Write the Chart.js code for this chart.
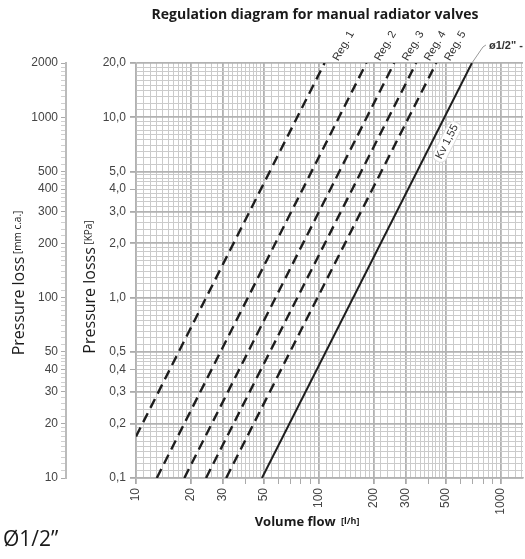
<!DOCTYPE html>
<html>
<head>
<meta charset="utf-8">
<script src="https://cdn.jsdelivr.net/npm/chart.js@4.4.0/dist/chart.umd.min.js"></script>
<style>
  body { margin: 0; background: #fff; }
  #wrap { width: 525px; height: 559px; position: relative; }
</style>
</head>
<body>
<div id="wrap"><canvas id="chart"></canvas></div>
<script>
// ---- data ----
const seriesNames = ["Reg. 1", "Reg. 2", "Reg. 3", "Reg. 4", "Reg. 5", "Kv 1,55"];
const flowStart = [10, 13, 18.4, 24.2, 31.2, 49];      // l/h
const lossStart = [0.17, 0.1, 0.1, 0.1, 0.1, 0.1];     // kPa
const flowEnd = [108, 183, 260, 343, 442, 693];        // l/h
const lossEnd = [20, 20, 20, 20, 20, 20];              // kPa

const xTickLabels = [10, 20, 30, 50, 100, 200, 300, 500, 1000];
const yTickLabels = [0.1, 0.2, 0.3, 0.4, 0.5, 1, 2, 3, 4, 5, 10, 20];
const mmTickLabels = [10, 20, 30, 40, 50, 100, 200, 300, 400, 500, 1000, 2000];

// dense log paper grid
function gridValues(min, max) {
  const out = [];
  for (let e = -2; e <= 4; e++) {
    const p = Math.pow(10, e);
    for (let m = 10; m < 20; m += 1) out.push(m * p / 10);
    for (let m = 20; m < 50; m += 2) out.push(m * p / 10);
    for (let m = 50; m < 100; m += 5) out.push(m * p / 10);
  }
  return out.filter(v => v >= min * 0.9999 && v <= max * 1.0001);
}
function mantissa(v) {
  const m = v / Math.pow(10, Math.floor(Math.log10(v) + 1e-9));
  return Math.round(m * 10) / 10;
}
function inList(v, list) {
  return list.some(l => Math.abs(v / l - 1) < 1e-6);
}
const isInt = v => Math.abs(mantissa(v) - Math.round(mantissa(v))) < 1e-6;
const isMajor = v => [1, 2, 3, 5].some(m => Math.abs(mantissa(v) - m) < 1e-6);

const gridColor = ctx => isMajor(ctx.tick.value) ? "#b2b2b2" : "#cbcbcb";
const gridWidth = ctx => isMajor(ctx.tick.value) ? 1.8 : 1;

const datasets = seriesNames.map((name, i) => ({
  label: name,
  data: [{ x: flowStart[i], y: lossStart[i] }, { x: flowEnd[i], y: lossEnd[i] }],
  showLine: true,
  pointRadius: 0,
  borderColor: "#1e1e1e",
  borderWidth: i === 5 ? 2 : 2.4,
  borderDash: i === 5 ? [] : [10, 6],
  yAxisID: "y"
}));

const tickFont = { family: "'Liberation Sans', Arial, sans-serif", size: 12 };
const noPad = s => { s.paddingLeft = 0; s.paddingRight = 0; s.paddingTop = 0; s.paddingBottom = 0; };

// texts drawn next to the scales
const textPlugin = {
  id: "texts",
  afterDraw(chart) {
    const c = chart.ctx;
    c.save();
    c.fillStyle = "#1a1a1a";

    // title
    c.font = "bold 14px 'Open Sans'";
    c.textAlign = "center";
    c.textBaseline = "middle";
    c.fillText("Regulation diagram for manual radiator valves", 315, 15);

    // axis titles (rotated, two sizes)
    function vTitle(x, cy, big, small) {
      c.save();
      c.translate(x, cy);
      c.rotate(-Math.PI / 2);
      c.font = "16px 'Open Sans'";
      const w1 = c.measureText(big).width;
      c.font = "10px 'Open Sans'";
      const w2 = c.measureText(small).width;
      const start = -(w1 + w2) / 2;
      c.textAlign = "left";
      c.textBaseline = "middle";
      c.font = "16px 'Open Sans'";
      c.fillText(big, start, 0);
      c.font = "10px 'Open Sans'";
      c.fillText(small, start + w1, -1);
      c.restore();
    }
    vTitle(19, 283, "Pressure loss", " [mm c.a.]");
    vTitle(90, 287, "Pressure losss", " [KPa]");

    // x axis title
    c.textBaseline = "middle";
    c.textAlign = "left";
    c.font = "bold 13px 'Open Sans'";
    const a = "Volume flow ";
    const wa = c.measureText(a).width;
    c.font = "bold 9px 'Open Sans'";
    const b = "[l/h]";
    const wb = c.measureText(b).width;
    const sx = 306 - (wa + wb) / 2;
    c.font = "bold 13px 'Open Sans'";
    c.fillText(a, sx, 522);
    c.font = "bold 9px 'Open Sans'";
    c.fillText(b, sx + wa + 2, 521);

    // size label
    c.font = "21px 'Open Sans'";
    c.fillText("\u00d81/2\u201d", 3, 540);

    // line labels
    c.font = "11px 'Liberation Sans', Arial";
    c.fillStyle = "#333";
    for (let i = 0; i < 5; i++) {
      const p = chart.getDatasetMeta(i).data[1];
      c.save();
      c.translate(p.x + 11, p.y - 3);
      c.rotate(-Math.PI / 3);
      c.textAlign = "left";
      c.textBaseline = "middle";
      c.fillText(seriesNames[i], 0, 0);
      c.restore();
    }

    // solid line: leader + size tag, and Kv label
    const meta = chart.getDatasetMeta(5);
    const p0 = meta.data[0], p1 = meta.data[1];
    c.strokeStyle = "#999";
    c.lineWidth = 1;
    c.beginPath();
    c.moveTo(p1.x, p1.y);
    c.lineTo(p1.x + 11, p1.y - 16);
    c.lineTo(p1.x + 14, p1.y - 18);
    c.stroke();
    c.font = "bold 11px 'Liberation Sans', Arial";
    c.fillStyle = "#333";
    c.textAlign = "left";
    c.fillText("\u00f81/2\" -", p1.x + 17, p1.y - 17);

    const t = 0.81;
    const kx = p0.x + (p1.x - p0.x) * t + 15;
    const ky = p0.y + (p1.y - p0.y) * t;
    const ang = Math.atan2(p1.y - p0.y, p1.x - p0.x);
    c.save();
    c.translate(kx, ky);
    c.rotate(ang);
    c.font = "11px 'Liberation Sans', Arial";
    const kw = c.measureText(seriesNames[5]).width;
    c.fillStyle = "#fff";
    c.strokeStyle = "#ddd";
    c.beginPath();
    c.roundRect(-kw / 2 - 3, -7, kw + 6, 14, 6);
    c.fill();
    c.stroke();
    c.fillStyle = "#333";
    c.textAlign = "center";
    c.textBaseline = "middle";
    c.fillText(seriesNames[5], 0, 0);
    c.restore();

    c.restore();
  }
};

new Chart(document.getElementById("chart"), {
  type: "scatter",
  data: { datasets },
  options: {
    responsive: true,
    maintainAspectRatio: false,
    animation: false,
    layout: { padding: { top: 63, right: 2, bottom: 0, left: 0 } },
    plugins: { legend: { display: false }, tooltip: { enabled: false }, title: { display: false } },
    scales: {
      x: {
        type: "logarithmic",
        min: 10,
        max: 1320,
        afterBuildTicks: s => { s.ticks = gridValues(10, 1320).map(v => ({ value: v })); },
        afterFit: s => { s.height = 81; noPad(s); },
        ticks: {
          autoSkip: false,
          minRotation: 90,
          maxRotation: 90,
          padding: 4,
          color: "#444",
          font: tickFont,
          callback: v => inList(v, xTickLabels) ? String(Math.round(v)) : ""
        },
        grid: {
          color: gridColor,
          lineWidth: gridWidth,
          tickLength: 6,
          tickColor: ctx => isInt(ctx.tick.value) ? "#aaa" : "rgba(0,0,0,0)"
        },
        border: { display: true, color: "#b2b2b2", width: 1.5 }
      },
      y: {
        type: "logarithmic",
        position: "left",
        weight: 0,
        min: 0.1,
        max: 20,
        afterBuildTicks: s => { s.ticks = gridValues(0.1, 20).map(v => ({ value: v })); },
        afterFit: s => { s.width = 70; noPad(s); },
        ticks: {
          autoSkip: false,
          padding: 4,
          color: "#444",
          font: tickFont,
          callback: v => inList(v, yTickLabels) ? v.toFixed(1).replace(".", ",") : ""
        },
        grid: {
          color: gridColor,
          lineWidth: gridWidth,
          tickLength: 6,
          tickColor: ctx => inList(ctx.tick.value, yTickLabels) ? "#aaa" : "rgba(0,0,0,0)"
        },
        border: { display: true, color: "#b2b2b2", width: 1.5 }
      },
      mm: {
        type: "logarithmic",
        position: "left",
        weight: 1,
        min: 10,
        max: 2000,
        afterBuildTicks: s => { s.ticks = gridValues(10, 2000).map(v => ({ value: v })); },
        afterFit: s => { s.width = 66; noPad(s); },
        ticks: {
          autoSkip: false,
          padding: 3,
          color: "#444",
          font: tickFont,
          callback: v => inList(v, mmTickLabels) ? String(Math.round(v)) : ""
        },
        grid: {
          drawOnChartArea: false,
          tickLength: 5,
          tickColor: ctx => inList(ctx.tick.value, mmTickLabels) ? "#aaa" : "#d0d0d0",
          tickWidth: 1
        },
        border: { display: true, color: "#bbb", width: 2 }
      }
    }
  },
  plugins: [textPlugin]
});
</script>
</body>
</html>
